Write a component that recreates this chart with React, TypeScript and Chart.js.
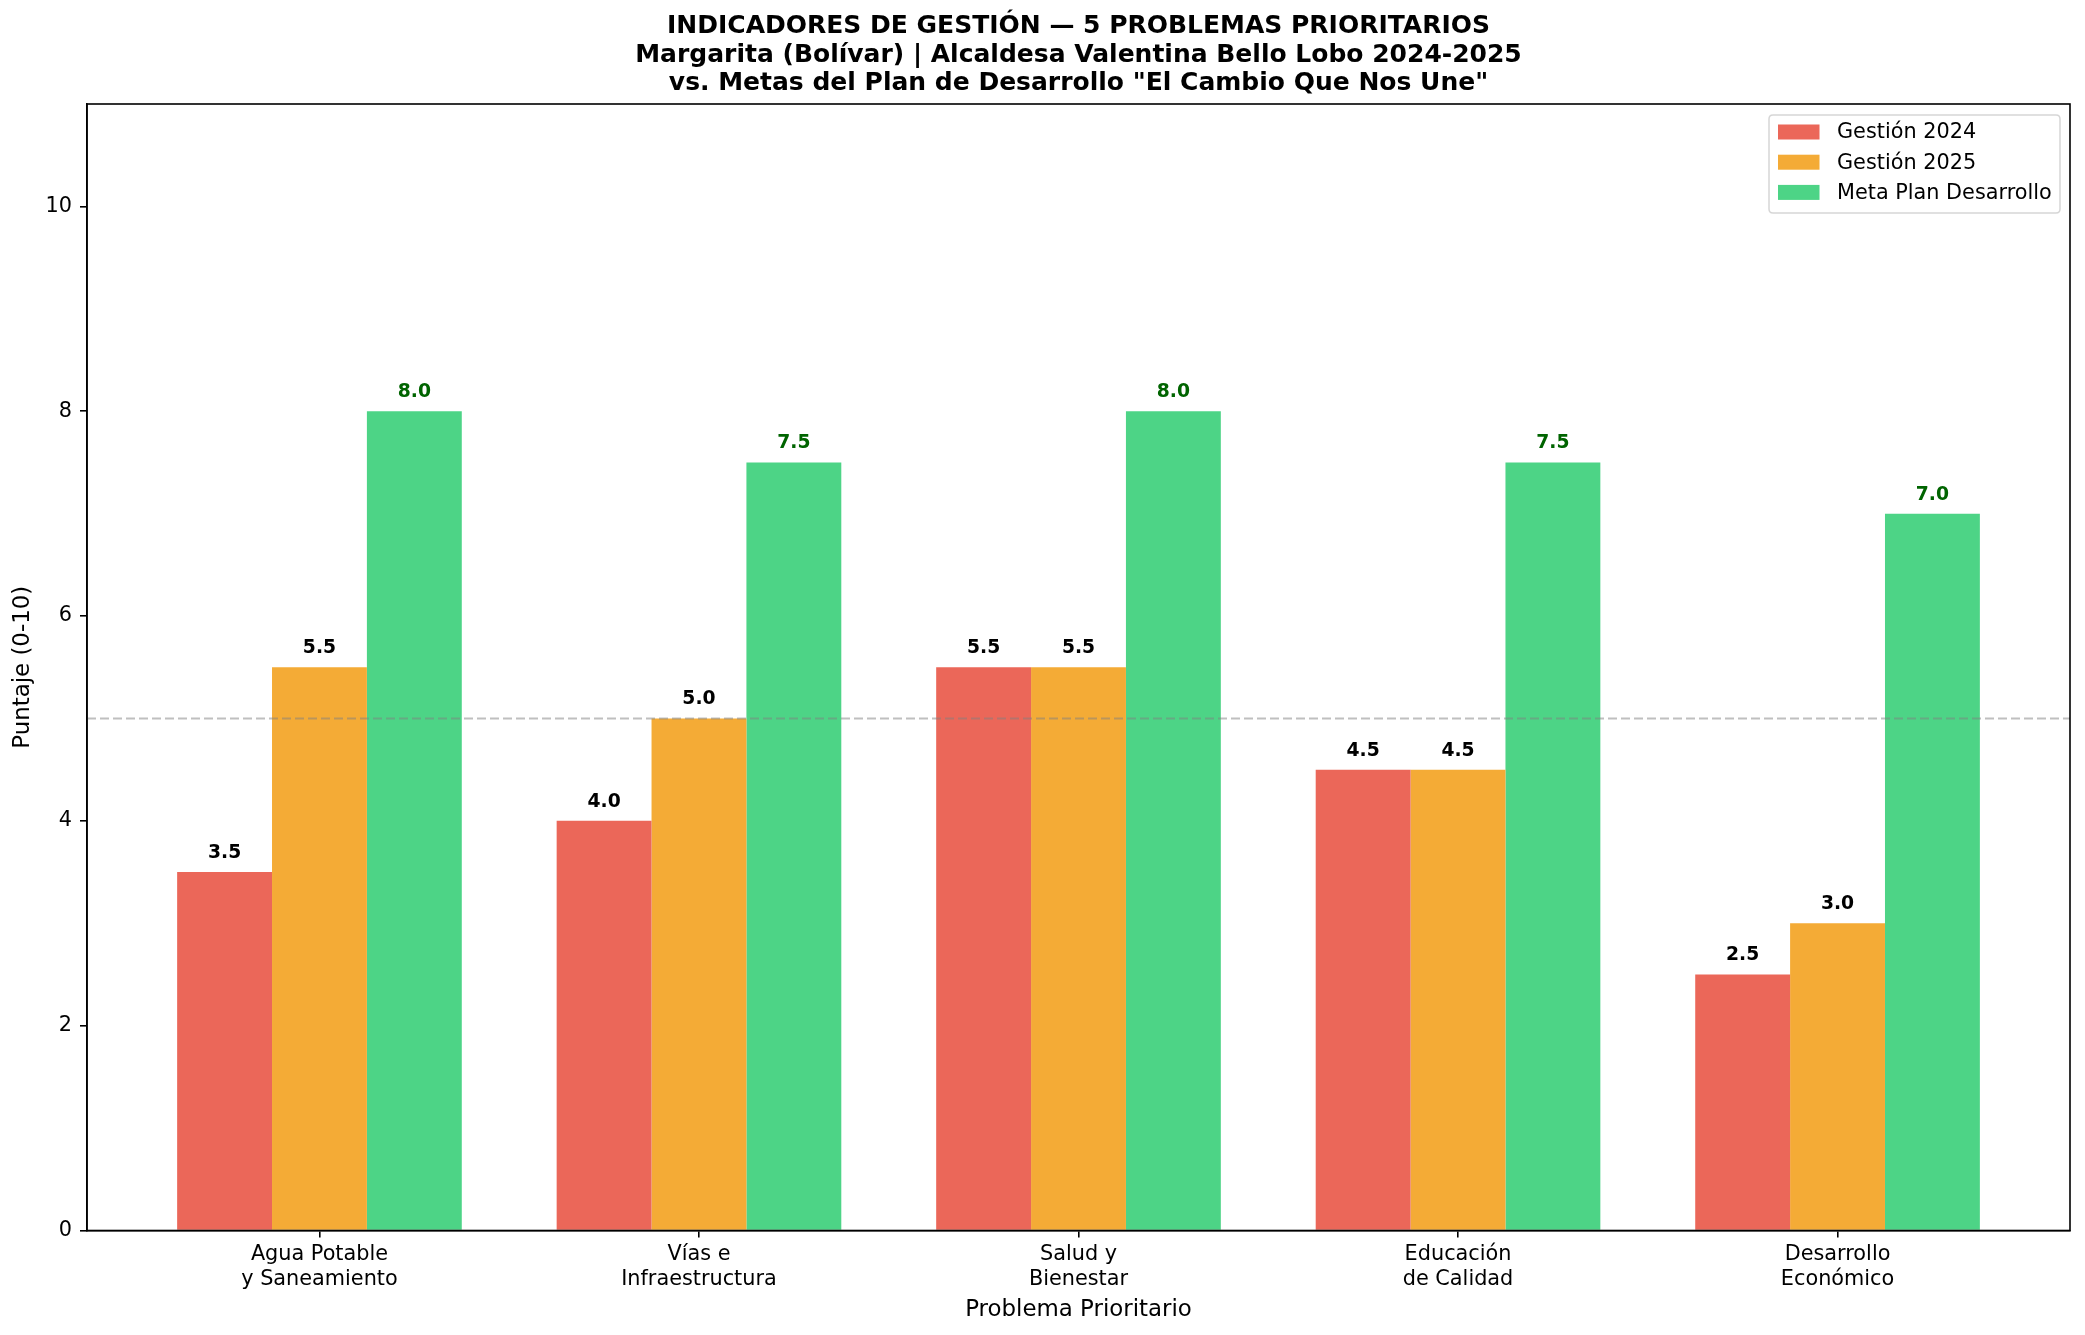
import React, { useEffect, useRef } from 'react';
import { Chart, registerables } from 'chart.js';

Chart.register(...registerables);

const CATEGORIES: string[][] = [
  ['Agua Potable', 'y Saneamiento'],
  ['Vías e', 'Infraestructura'],
  ['Salud y', 'Bienestar'],
  ['Educación', 'de Calidad'],
  ['Desarrollo', 'Económico'],
];
const GESTION_2024 = [3.5, 4.0, 5.5, 4.5, 2.5];
const GESTION_2025 = [5.5, 5.0, 5.5, 4.5, 3.0];
const META_PLAN = [8.0, 7.5, 8.0, 7.5, 7.0];
const SERIES_LABELS = ['Gestión 2024', 'Gestión 2025', 'Meta Plan Desarrollo'];
const Y_TICKS = [0, 2, 4, 6, 8, 10];
const REFERENCE_LINE = 5;
const TITLE_LINES = [
  'INDICADORES DE GESTIÓN — 5 PROBLEMAS PRIORITARIOS',
  'Margarita (Bolívar) | Alcaldesa Valentina Bello Lobo 2024-2025',
  'vs. Metas del Plan de Desarrollo "El Cambio Que Nos Une"',
];
const Y_TITLE = 'Puntaje (0-10)';
const X_TITLE = 'Problema Prioritario';

const COLORS = ['rgb(235,103,89)', 'rgb(244,171,54)', 'rgb(77,212,134)'];
const LABEL_COLORS = ['#000000', '#000000', '#006400'];
const FONT = '"DejaVu Sans", sans-serif';

const overlayPlugin = {
  id: 'overlay',
  afterDatasetsDraw(chart: any) {
    const { ctx, chartArea, scales } = chart;
    // value labels
    ctx.save();
    ctx.font = `bold 18.75px ${FONT}`;
    ctx.textAlign = 'center';
    ctx.textBaseline = 'alphabetic';
    chart.data.datasets.forEach((ds: any, di: number) => {
      const meta = chart.getDatasetMeta(di);
      ctx.fillStyle = LABEL_COLORS[di];
      meta.data.forEach((el: any, i: number) => {
        const v = ds.data[i].y;
        ctx.fillText(v.toFixed(1), el.x, el.y - 14);
      });
    });
    ctx.restore();
    // reference line
    const y = scales.y.getPixelForValue(REFERENCE_LINE);
    ctx.save();
    ctx.strokeStyle = 'rgba(128,128,128,0.5)';
    ctx.lineWidth = 2;
    ctx.setLineDash([9, 4]);
    ctx.beginPath();
    ctx.moveTo(chartArea.left, y);
    ctx.lineTo(chartArea.right, y);
    ctx.stroke();
    ctx.restore();
  },
  afterDraw(chart: any) {
    const { ctx, chartArea } = chart;
    // frame
    ctx.save();
    ctx.strokeStyle = '#000';
    ctx.lineWidth = 1.6;
    ctx.strokeRect(chartArea.left, chartArea.top, chartArea.right - chartArea.left, chartArea.bottom - chartArea.top);
    ctx.restore();
    // title
    ctx.save();
    ctx.font = `bold 25px ${FONT}`;
    ctx.fillStyle = '#000';
    ctx.textAlign = 'center';
    ctx.textBaseline = 'middle';
    const cx = (chartArea.left + chartArea.right) / 2;
    const ys = [26, 55, 83.5];
    TITLE_LINES.forEach((t, i) => ctx.fillText(t, cx, ys[i]));
    ctx.restore();
    // legend
    ctx.save();
    const bx = chartArea.right - 301;
    const by = chartArea.top + 11;
    const bw = 291;
    const bh = 98;
    const r = 4;
    ctx.beginPath();
    ctx.moveTo(bx + r, by);
    ctx.lineTo(bx + bw - r, by);
    ctx.quadraticCurveTo(bx + bw, by, bx + bw, by + r);
    ctx.lineTo(bx + bw, by + bh - r);
    ctx.quadraticCurveTo(bx + bw, by + bh, bx + bw - r, by + bh);
    ctx.lineTo(bx + r, by + bh);
    ctx.quadraticCurveTo(bx, by + bh, bx, by + bh - r);
    ctx.lineTo(bx, by + r);
    ctx.quadraticCurveTo(bx, by, bx + r, by);
    ctx.closePath();
    ctx.fillStyle = 'rgba(255,255,255,0.8)';
    ctx.fill();
    ctx.strokeStyle = 'rgba(204,204,204,0.8)';
    ctx.lineWidth = 1.5;
    ctx.stroke();
    ctx.font = `20.8px ${FONT}`;
    ctx.textAlign = 'left';
    ctx.textBaseline = 'middle';
    chart.data.datasets.forEach((ds: any, i: number) => {
      const cy = by + 17 + i * 30.2;
      ctx.fillStyle = ds.backgroundColor;
      ctx.fillRect(bx + 9, cy - 7.5, 41.5, 15);
      ctx.fillStyle = '#000';
      ctx.fillText(ds.label, bx + 68, cy + 1);
    });
    ctx.restore();
  },
};

export default function App() {
  const ref = useRef<HTMLCanvasElement | null>(null);
  useEffect(() => {
    document.body.style.margin = '0';
    const canvas = ref.current;
    if (!canvas) return;
    const series = [GESTION_2024, GESTION_2025, META_PLAN];
    const chart = new Chart(canvas, {
      type: 'bar',
      data: {
        datasets: series.map((vals, si) => ({
          label: SERIES_LABELS[si],
          data: vals.map((v, i) => ({ x: i, y: v })),
          backgroundColor: COLORS[si],
          borderWidth: 0,
          barPercentage: 1,
          categoryPercentage: 0.75,
        })),
      },
      options: {
        animation: false,
        responsive: false,
        devicePixelRatio: 1,
        layout: { padding: { left: 0, right: 15, top: 104, bottom: 0 } },
        plugins: {
          legend: { display: false },
          title: { display: false },
          tooltip: { enabled: false },
        },
        scales: {
          x: {
            type: 'linear',
            min: -0.6125,
            max: 4.6125,
            offset: false,
            grid: { display: true, drawOnChartArea: false, drawTicks: true, tickLength: 7, tickColor: '#000', lineWidth: 1.6, offset: false },
            border: { display: true, color: '#000', width: 1.6 },
            afterBuildTicks: (scale: any) => {
              scale.ticks = CATEGORIES.map((_, i) => ({ value: i }));
            },
            afterFit: (scale: any) => {
              scale.height = 104.5;
            },
            ticks: {
              autoSkip: false,
              maxRotation: 0,
              minRotation: 0,
              padding: 5,
              color: '#000',
              font: { family: FONT, size: 20.8 },
              callback: (value: any) => CATEGORIES[Math.round(Number(value))] ?? '',
            },
            title: {
              display: true,
              text: X_TITLE,
              color: '#000',
              font: { family: FONT, size: 22.9 },
              padding: { top: 0, bottom: 11 },
            },
          },
          y: {
            type: 'linear',
            min: 0,
            max: 11,
            grid: { display: true, drawOnChartArea: false, drawTicks: true, tickLength: 7, tickColor: '#000', lineWidth: 1.6 },
            border: { display: true, color: '#000', width: 1.6 },
            afterBuildTicks: (scale: any) => {
              scale.ticks = Y_TICKS.map((v) => ({ value: v }));
            },
            afterFit: (scale: any) => {
              scale.width = 87;
            },
            ticks: {
              padding: 8,
              color: '#000',
              font: { family: FONT, size: 20.8 },
              callback: (value: any) => String(value),
            },
            title: {
              display: true,
              text: Y_TITLE,
              color: '#000',
              font: { family: FONT, size: 22.9 },
              padding: { top: 9, bottom: 0 },
            },
          },
        },
      },
      plugins: [overlayPlugin],
    } as any);
    return () => chart.destroy();
  }, []);
  return (
    <div style={{ width: 2085, height: 1335, background: '#fff' }}>
      <canvas ref={ref} width={2085} height={1335} style={{ display: 'block', width: 2085, height: 1335 }} />
    </div>
  );
}
